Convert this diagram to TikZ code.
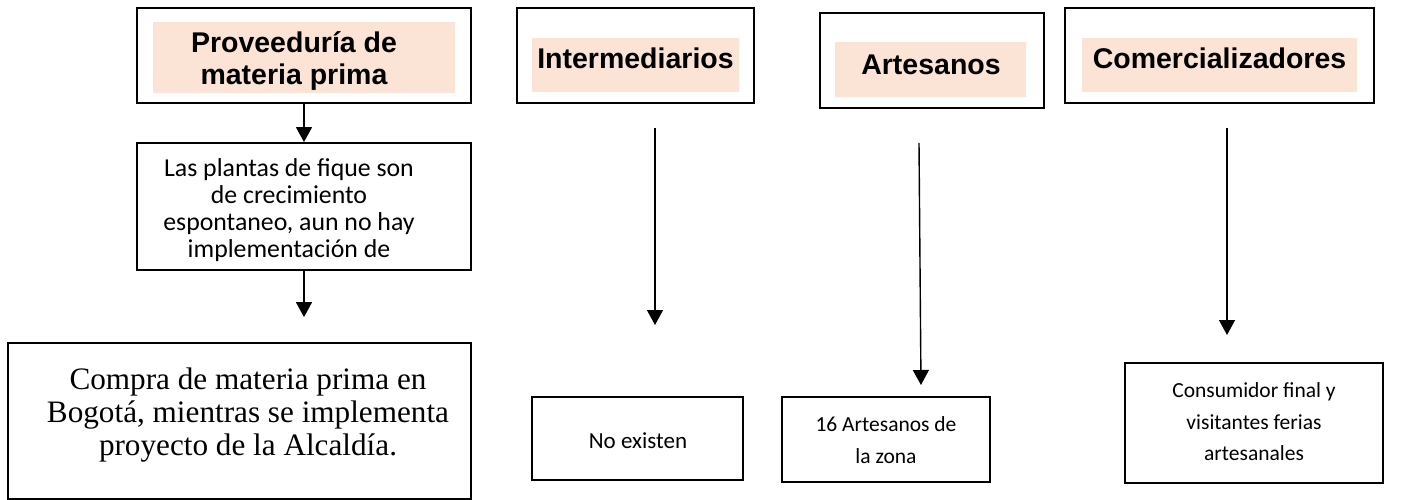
\documentclass[tikz,border=0pt]{standalone}
\usepackage{fontspec}
\usetikzlibrary{arrows.meta}
\newfontfamily\fuentetit{Liberation Sans}
\newfontfamily\fuentecal{Carlito}
\newfontfamily\fuentetnr{Liberation Serif}
\definecolor{durazno}{HTML}{FBE4D5}

\begin{document}
\begin{tikzpicture}[x=1pt,y=-1pt,
    caja/.style={draw, line width=1.8pt, inner sep=0pt},
    cajagruesa/.style={draw, line width=2.8pt, inner sep=0pt},
    titulo/.style={font=\fuentetit\bfseries\fontsize{28.5}{32}\selectfont, align=center, inner sep=0pt},
    cuerpo/.style={font=\fuentecal\fontsize{21.5}{31.5}\selectfont, align=center, inner sep=0pt},
    flecha/.style={line width=1.4pt, -{Triangle[width=16pt,length=15pt]}}]

    \useasboundingbox (0,0) rectangle (1419,500);

    \coordinate (intsup) at (655,128);
    \coordinate (intinf) at (655,325);
    \coordinate (artsup) at (919,143);
    \coordinate (artinf) at (921,385);
    \coordinate (comsup) at (1227,128);
    \coordinate (cominf) at (1227,335);

    \fill[durazno] (153,22) rectangle (455,93);
    \fill[durazno] (532,38) rectangle (739,92);
    \fill[durazno] (835,42) rectangle (1026,97);
    \fill[durazno] (1082,38) rectangle (1357,92);

    \node[caja, minimum width=334pt, minimum height=95pt] (prov) at (304,55.5) {};
    \node[titulo] (provtxt) at (294,61) {Proveeduría de\\materia prima};
    \node[caja, minimum width=237pt, minimum height=95pt] (interm) at (635.5,55.5) {};
    \node[titulo] (intermtxt) at (635.5,58) {Intermediarios};
    \node[caja, minimum width=224pt, minimum height=95pt] (artes) at (932,60.5) {};
    \node[titulo] (artestxt) at (931,65) {Artesanos};
    \node[caja, minimum width=309pt, minimum height=95pt] (comerc) at (1219.5,55.5) {};
    \node[titulo] (comerctxt) at (1219.5,58) {Comercializadores};

    \node[caja, minimum width=334pt, minimum height=127pt] (plantas) at (304,206.5) {};
    \node[cuerpo, font=\fuentecal\fontsize{25.8}{26.8}\selectfont] (plantastxt) at (289,210) {Las plantas de fique son\\de crecimiento\\espontaneo, aun no hay\\implementación de};

    \node[caja, minimum width=463pt, minimum height=156pt] (compra) at (239.5,421) {};
    \node[font=\fuentetnr\fontsize{31.2}{33}\selectfont, align=center, inner sep=0pt] (compratxt) at (248,415) {Compra de materia prima en\\Bogotá, mientras se implementa\\proyecto de la Alcaldía.};

    \node[caja, minimum width=211pt, minimum height=83pt] (noexist) at (637.5,438.5) {};
    \node[cuerpo, font=\fuentecal\fontsize{23}{31.5}\selectfont] (noexisttxt) at (638,441) {No existen};
    \node[cajagruesa, minimum width=208pt, minimum height=85pt] (dieciseis) at (886,439.5) {};
    \node[cuerpo] (dieciseistxt) at (886,440) {16 Artesanos de\\la zona};
    \node[cajagruesa, minimum width=258pt, minimum height=120pt] (consum) at (1254,423) {};
    \node[cuerpo] (consumtxt) at (1254,422) {Consumidor final y\\visitantes ferias\\artesanales};

    \draw[flecha] (prov) -- (plantas);
    \draw[flecha, shorten >=25pt] (plantas.south) -- (plantas.south |- compra.north);
    \draw[flecha] (intsup) -- (intinf);
    \draw[flecha] (artsup) -- (artinf);
    \draw[flecha] (comsup) -- (cominf);
\end{tikzpicture}
\end{document}
